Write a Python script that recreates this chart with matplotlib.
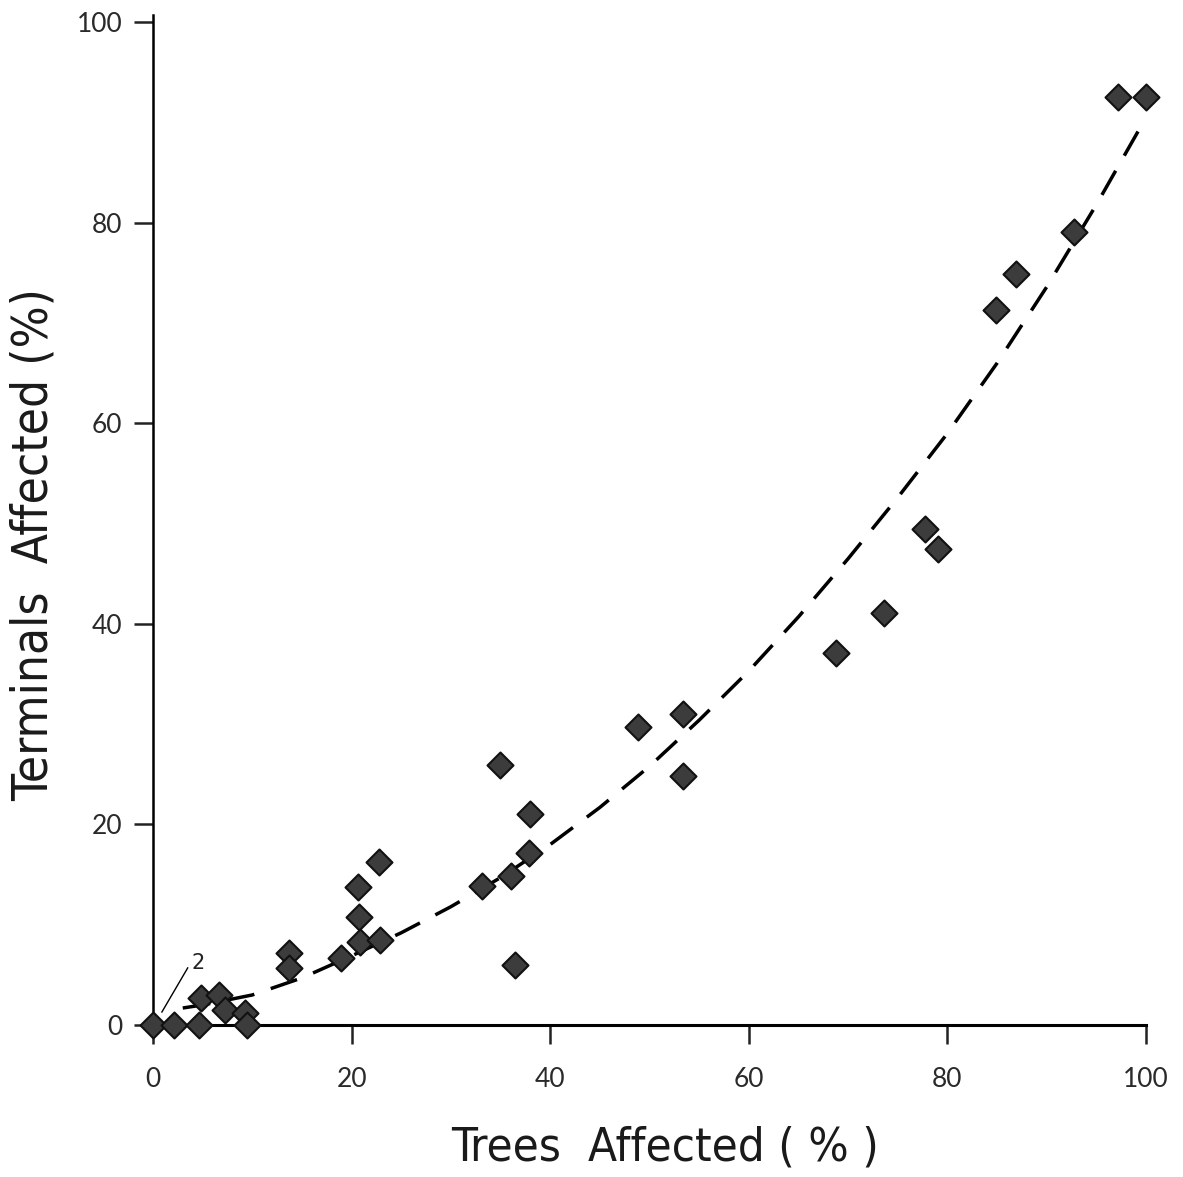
import numpy as np
import matplotlib
matplotlib.use('Agg')
import matplotlib.pyplot as plt

# points
trees = [0, 2.1, 4.6, 4.8, 6.7, 7.3, 9.3, 9.5, 13.7, 13.7, 18.9, 20.6, 20.7, 20.8,
         22.9, 22.8, 33.1, 36.1, 34.9, 36.5, 38.0, 37.9, 48.8, 53.4, 53.4, 68.8,
         73.6, 77.7, 79.1, 84.9, 86.9, 92.8, 97.2, 100.0]
terminals = [0, 0, 0, 2.7, 3.0, 1.5, 1.2, 0, 7.2, 5.7, 6.7, 13.8, 10.8, 8.3,
             8.5, 16.3, 13.9, 14.9, 25.9, 6.0, 21.0, 17.2, 29.7, 31.0, 24.8, 37.1,
             41.1, 49.5, 47.5, 71.3, 74.9, 79.1, 92.5, 92.5]

# dashed fitted curve, read every 5 % along x
curve_x = [3, 5, 10, 15, 20, 25, 30, 35, 40, 45, 50, 55, 60, 65, 70, 75, 80, 85, 90, 95, 100]
curve_y = [1.7, 2.0, 3.0, 4.7, 6.9, 9.2, 11.8, 14.7, 18.0, 21.7, 25.8, 30.4, 35.3,
           40.7, 46.5, 52.6, 59.0, 66.0, 73.6, 81.8, 90.5]

ticks = [0, 20, 40, 60, 80, 100]

fig = plt.figure(figsize=(11.83, 11.77), dpi=100)
ax = fig.add_axes([0.1293, 0.1291, 0.8394, 0.852])

ax.plot(curve_x, curve_y, ls=(0, (8, 5)), color='black', lw=2.5, zorder=2)
ax.scatter(trees, terminals, marker='D', s=175, facecolor='#3c3c3c',
           edgecolor='#111111', linewidths=1.5, zorder=3, clip_on=False)

# label for the overlapping points at the origin
ax.plot([0.9, 3.5], [1.3, 5.7], color='black', lw=1.0, clip_on=False)
ax.text(3.9, 5.6, '2', fontsize=15, family='DejaVu Sans', color='#222222')

label_font = dict(family='DejaVu Sans', fontstretch='condensed', color='#1a1a1a')

ax.set_xlim(0, 100)
ax.set_ylim(0, 100)
ax.set_xticks(ticks)
ax.set_yticks(ticks)
ax.spines['top'].set_visible(False)
ax.spines['right'].set_visible(False)
ax.spines['left'].set_bounds(0, 100.7)
ax.spines['left'].set_linewidth(1.8)
ax.spines['bottom'].set_linewidth(2.2)
ax.tick_params(direction='out', length=14, width=1.8, labelsize=19,
               colors='#222222')
ax.tick_params(axis='x', pad=16)
ax.tick_params(axis='y', pad=8)
for lab in ax.get_xticklabels() + ax.get_yticklabels():
    lab.set_family(['Lato', 'DejaVu Sans'])
    lab.set_color('#2a2a2a')

ax.set_xlabel('Trees  Affected ( % )', fontsize=34, **label_font)
ax.set_ylabel('Terminals  Affected (%)', fontsize=35.5, **label_font)
ax.xaxis.set_label_coords(0.516, -0.1)
ax.yaxis.set_label_coords(-0.096, 0.479)

fig.savefig('out.png', dpi=100)
